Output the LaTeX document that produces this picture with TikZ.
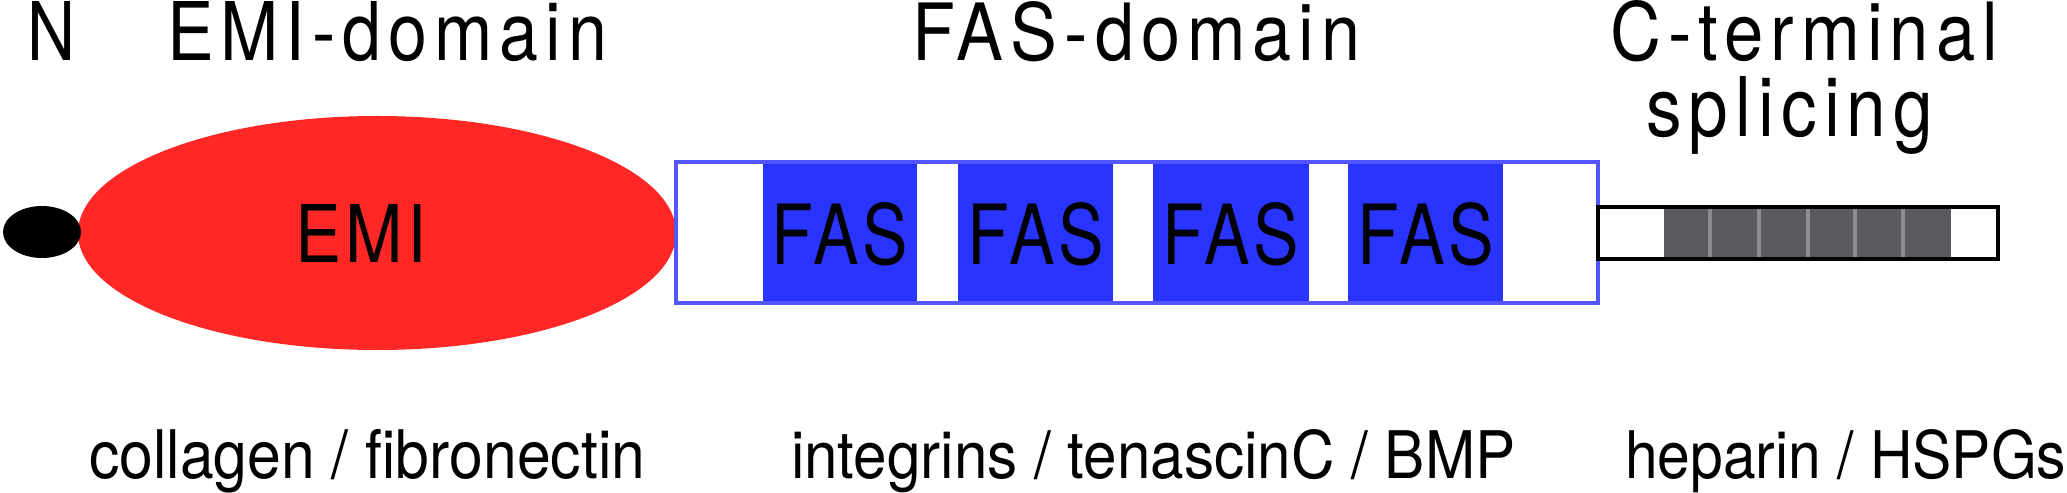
\documentclass[tikz,border=0pt]{standalone}
\usepackage{fontspec}
\setmainfont{TeX Gyre Heros}
\newfontfamily\trk{TeX Gyre Heros}[LetterSpace=10]
\newfontfamily\trkb{TeX Gyre Heros}[LetterSpace=6]
\usepackage{graphicx}
\usetikzlibrary{shapes.geometric}
\definecolor{emired}{RGB}{255,40,38}
\definecolor{fasblue}{RGB}{42,52,255}
\definecolor{fasborder}{RGB}{85,85,255}
\definecolor{cgray}{RGB}{90,89,96}
\definecolor{cdiv}{RGB}{140,140,146}
\newcommand\fitbox[3]{\resizebox{#1bp}{#2bp}{#3}}
\begin{document}
\begin{tikzpicture}[x=1bp,y=-1bp,
  txt/.style={inner sep=0pt,outer sep=0pt,anchor=base west},
  ctxt/.style={inner sep=0pt,outer sep=0pt,anchor=base},
  fasblock/.style={fill=fasblue},
  divider/.style={fill=cdiv}]
\useasboundingbox (0,0) rectangle (2067,493);
\fill[white] (0,0) rectangle (2067,493);

% N-terminal dot and EMI domain
\node[ellipse, fill=emired, inner sep=0pt, minimum width=598bp, minimum height=234bp] (emi) at (377,233) {};
\node[ellipse, fill=black, inner sep=0pt, minimum width=78bp, minimum height=52bp] (nterm) at (42,232) {};
\node[ctxt] (emilab) at (361,263) {\fitbox{131}{58}{\trkb EMI}};

% FAS domain
\fill[fasblock] (763,162) rectangle (917,303);
\fill[fasblock] (958,162) rectangle (1113,303);
\fill[fasblock] (1153,162) rectangle (1309,303);
\fill[fasblock] (1348,162) rectangle (1503,303);
\draw[fasborder, line width=3.5bp] (676,162) rectangle (1598,303);
\node[ctxt] (fas1) at (840,265) {\fitbox{136}{62}{\trkb FAS}};
\node[ctxt] (fas2) at (1036,265) {\fitbox{136}{62}{\trkb FAS}};
\node[ctxt] (fas3) at (1231,265) {\fitbox{136}{62}{\trkb FAS}};
\node[ctxt] (fas4) at (1426,265) {\fitbox{136}{62}{\trkb FAS}};

% C-terminal splicing region
\fill[cgray] (1664,207) rectangle (1951,259);
\fill[divider] (1708,207) rectangle (1712,259);
\fill[divider] (1757,207) rectangle (1761,259);
\fill[divider] (1806,207) rectangle (1810,259);
\fill[divider] (1853,207) rectangle (1857,259);
\fill[divider] (1901,207) rectangle (1905,259);
\draw[black, line width=3.5bp] (1598,207) rectangle (1998,259);

% top labels
\node[txt] (nlab) at (28,61) {\fitbox{48}{59}{N}};
\node[txt] (emidom) at (167,61) {\fitbox{440}{59}{\trk EMI-domain}};
\node[txt] (fasdom) at (912,61) {\fitbox{448}{59}{\trk FAS-domain}};
\node[txt] (cterm) at (1610,61) {\fitbox{388}{60}{\trk C-terminal}};
\node[txt] (splice) at (1646,137) {\fitbox{287}{60}{\trk splicing}};

% bottom labels
\node[txt] (collab) at (89,478) {\fitbox{556}{49}{collagen / fibronectin}};
\node[txt] (intlab) at (791,478) {\fitbox{724}{49}{integrins / tenascinC / BMP}};
\node[txt] (heplab) at (1625,478) {\fitbox{441}{49}{heparin / HSPGs}};
\end{tikzpicture}
\end{document}
